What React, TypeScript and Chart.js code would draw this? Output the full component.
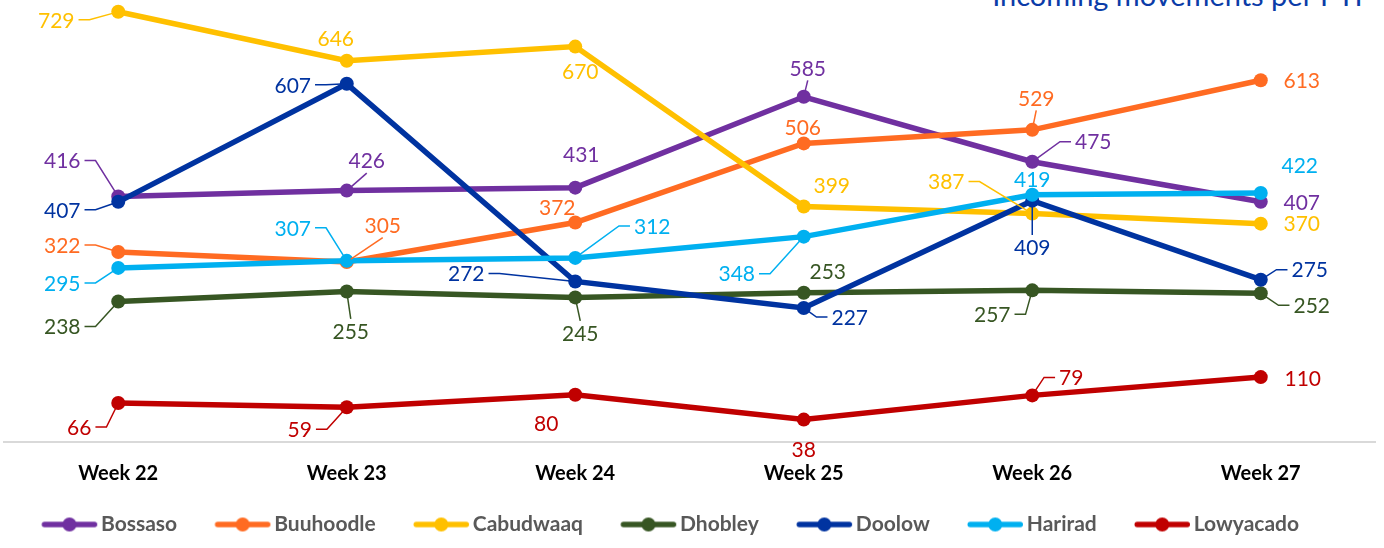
import React, { useEffect, useRef } from 'react';
import { Chart, registerables } from 'chart.js';

Chart.register(...registerables);

// ---------- data ----------
const categories = ['Week 22', 'Week 23', 'Week 24', 'Week 25', 'Week 26', 'Week 27'];
const seriesNames = ['Bossaso', 'Buuhoodle', 'Cabudwaaq', 'Dhobley', 'Doolow', 'Harirad', 'Lowyacado'];
const bossaso = [416, 426, 431, 585, 475, 407];
const buuhoodle = [322, 305, 372, 506, 529, 613];
const cabudwaaq = [729, 646, 670, 399, 387, 370];
const dhobley = [238, 255, 245, 253, 257, 252];
const doolow = [407, 607, 272, 227, 409, 275];
const harirad = [295, 307, 312, 348, 419, 422];
const lowyacado = [66, 59, 80, 38, 79, 110];
const seriesValues = [bossaso, buuhoodle, cabudwaaq, dhobley, doolow, harirad, lowyacado];
const titleText = 'Incoming movements per PTP';

// ---------- styles ----------
const seriesColors = ['#7030A0', '#FF6B22', '#FFC000', '#375623', '#0033A0', '#00B0F0', '#C00000'];
const FONT = 'Lato, "Open Sans", sans-serif';
const LABEL_SIZE = 21;
const LEGEND_SIZE = 21;
const LEGEND_PAD = 8;
const MARKER_BLANK = 30;
const MARKER_LEN = 55;

// label placement: [dx, dy, leader] relative to the point; leader 0 none, 1 side elbow, 2 top/bottom
const labelPlacement: number[][][] = [
  [[-56, -36, 1], [20, -30, 2], [6, -33, 0], [4, -29, 2], [61, -20, 1], [41, 0, 0]],
  [[-56, -7, 1], [36, -37, 2], [-18, -15, 0], [-1, -16, 0], [4, -32, 2], [41, 0, 0]],
  [[-62, 8, 1], [-11, -23, 0], [5, 25, 0], [28, -21, 0], [-86, -32, 1], [41, 0, 0]],
  [[-56, 25, 1], [4, 40, 2], [5, 36, 2], [24, -21, 0], [-40, 24, 1], [51, 12, 1]],
  [[-56, 8, 1], [-54, 1, 1], [-109, -8, 1], [46, 9, 1], [0, 47, 2], [49, -10, 1]],
  [[-56, 15, 1], [-54, -33, 1], [77, -32, 1], [-67, 37, 1], [0, -16, 0], [39, -28, 0]],
  [[-39, 24, 1], [-47, 22, 1], [-29, 28, 0], [0, 30, 0], [39, -18, 1], [42, 1, 0]],
];

// legend box: blank + marker, text starts 4px after the marker line
const POINT_STYLE_WIDTH = MARKER_BLANK + MARKER_LEN + 4 - LEGEND_SIZE / 2;

function legendMarker(color: string): HTMLCanvasElement {
  // image is centred at x + POINT_STYLE_WIDTH/2
  const W = 2 * (MARKER_BLANK + MARKER_LEN) + 10;
  const c = document.createElement('canvas');
  c.width = W;
  c.height = 16;
  const g = c.getContext('2d')!;
  const start = MARKER_BLANK - POINT_STYLE_WIDTH / 2 + W / 2;
  g.strokeStyle = color;
  g.lineWidth = 5.5;
  g.lineCap = 'round';
  g.beginPath();
  g.moveTo(start + 2.5, 8);
  g.lineTo(start + MARKER_LEN - 2.5, 8);
  g.stroke();
  g.fillStyle = color;
  g.beginPath();
  g.arc(start + MARKER_LEN / 2, 8, 7, 0, Math.PI * 2);
  g.fill();
  return c;
}

const pointLabelPlugin = {
  id: 'pointLabelPlugin',
  afterDatasetsDraw(chart: any) {
    const ctx = chart.ctx as CanvasRenderingContext2D;
    ctx.save();
    ctx.font = `${LABEL_SIZE}px ${FONT}`;
    ctx.textAlign = 'center';
    ctx.textBaseline = 'middle';
    chart.data.datasets.forEach((ds: any, i: number) => {
      const meta = chart.getDatasetMeta(i);
      meta.data.forEach((pt: any, j: number) => {
        const [dx, dy, mode] = labelPlacement[i][j];
        const tx = pt.x + dx;
        const ty = pt.y + dy;
        const text = String(ds.data[j]);
        const w = ctx.measureText(text).width;
        const h = LABEL_SIZE * 0.72;
        ctx.strokeStyle = ds.borderColor;
        ctx.lineWidth = 1.5;
        if (mode === 1) {
          const side = dx < 0 ? 1 : -1;
          const sx = tx + side * (w / 2 + 4);
          const ex = sx + side * 11;
          const vx = pt.x - ex;
          const vy = pt.y - ty;
          const d = Math.hypot(vx, vy) || 1;
          ctx.beginPath();
          ctx.moveTo(sx, ty);
          ctx.lineTo(ex, ty);
          ctx.lineTo(pt.x - (vx / d) * 5, pt.y - (vy / d) * 5);
          ctx.stroke();
        } else if (mode === 2) {
          const side = dy < 0 ? 1 : -1;
          const sy = ty + side * (h / 2 + 5);
          const vx = pt.x - tx;
          const vy = pt.y - sy;
          const d = Math.hypot(vx, vy) || 1;
          ctx.beginPath();
          ctx.moveTo(tx, sy);
          ctx.lineTo(pt.x - (vx / d) * 5, pt.y - (vy / d) * 5);
          ctx.stroke();
        }
        ctx.fillStyle = ds.borderColor;
        ctx.fillText(text, tx, ty + 1);
      });
    });
    ctx.restore();
  },
};

export default function App() {
  const canvasRef = useRef<HTMLCanvasElement | null>(null);

  useEffect(() => {
    document.body.style.margin = '0';
    const markers = seriesColors.map(legendMarker);
    const chart = new Chart(canvasRef.current!, {
      type: 'line',
      data: {
        labels: categories,
        datasets: seriesNames.map((name, i) => ({
          label: name,
          data: seriesValues[i],
          borderColor: seriesColors[i],
          backgroundColor: seriesColors[i],
          pointBackgroundColor: seriesColors[i],
          pointBorderColor: seriesColors[i],
          borderWidth: 5.5,
          pointRadius: 7,
          pointBorderWidth: 0,
          tension: 0,
          fill: false,
          clip: false,
          order: seriesNames.length - i,
        })),
      },
      options: {
        responsive: true,
        maintainAspectRatio: false,
        animation: false,
        layout: { autoPadding: false, padding: { left: 4, right: 9, top: 0, bottom: 3 } },
        scales: {
          x: {
            offset: true,
            grid: { display: false, drawTicks: false },
            border: { display: true, color: '#D9D9D9', width: 2 },
            ticks: {
              color: '#000000',
              padding: 20,
              font: { family: FONT, size: 20, weight: 'bold' },
            },
            afterFit: (scale: any) => {
              scale.height = 64;
            },
          },
          y: { display: false, min: 0, max: 749 },
        },
        plugins: {
          tooltip: { enabled: false },
          title: { display: false },
          legend: {
            position: 'bottom',
            align: 'start',
            labels: {
              usePointStyle: true,
              pointStyleWidth: POINT_STYLE_WIDTH,
              padding: LEGEND_PAD,
              color: '#595959',
              font: { family: FONT, size: LEGEND_SIZE, weight: 'bold' },
              generateLabels: (chart: any) => {
                const items = Chart.defaults.plugins.legend.labels.generateLabels(chart);
                items.forEach((it: any) => {
                  it.pointStyle = markers[it.datasetIndex];
                  it.fontColor = '#595959';
                });
                return items;
              },
              sort: (a: any, b: any) => a.datasetIndex - b.datasetIndex,
            },
          },
        },
      },
      plugins: [pointLabelPlugin],
    } as any);
    return () => chart.destroy();
  }, []);

  return (
    <div
      style={{
        position: 'fixed',
        left: 0,
        top: 0,
        width: 1384,
        height: 548,
        overflow: 'hidden',
        background: '#ffffff',
      }}
    >
      <div
        style={{
          position: 'absolute',
          right: 12,
          top: -20,
          fontFamily: FONT,
          fontSize: 29,
          lineHeight: '30px',
          color: '#0B3CA8',
          whiteSpace: 'nowrap',
        }}
      >
        {titleText}
      </div>
      <div style={{ position: 'absolute', left: 0, top: 0, width: 1384, height: 548 }}>
        <canvas ref={canvasRef} />
      </div>
    </div>
  );
}
